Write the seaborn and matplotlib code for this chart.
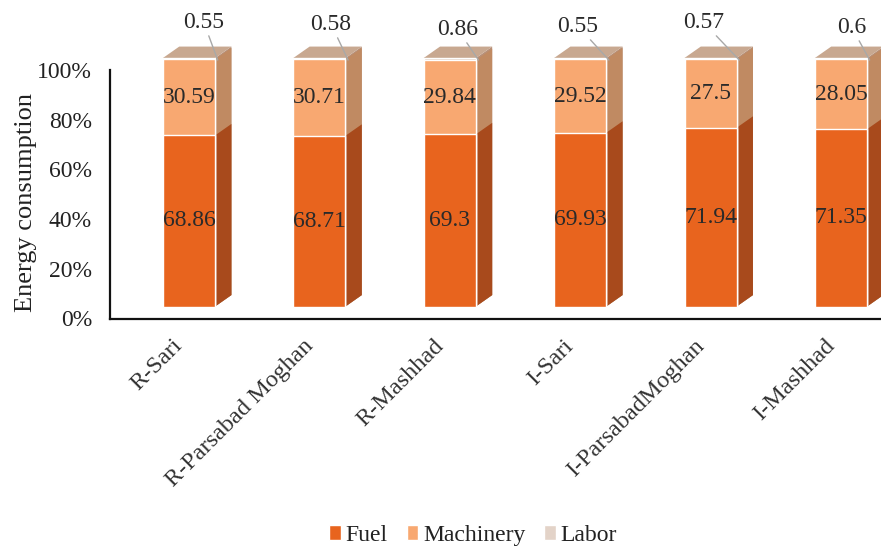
import matplotlib
matplotlib.use("Agg")
import matplotlib.pyplot as plt
import seaborn as sns
import pandas as pd
from matplotlib.patches import Polygon, Patch
from matplotlib.transforms import Affine2D

# data
sitios = ["R-Sari", "R-Parsabad Moghan", "R-Mashhad", "I-Sari", "I-ParsabadMoghan", "I-Mashhad"]
fuel = [68.86, 68.71, 69.3, 69.93, 71.94, 71.35]
machinery = [30.59, 30.71, 29.84, 29.52, 27.5, 28.05]
labor = [0.55, 0.58, 0.86, 0.55, 0.57, 0.6]

# where each labor label sits, pixels from the top right corner of its bar
labor_offsets = [(-14, 38), (-17, 36), (-21, 31), (-31, 34), (-36, 38), (-18, 33)]

COLORES = {"Fuel": "#E8641E", "Machinery": "#F8A871", "Labor": "#E3D3C8"}
LATERAL = {"Fuel": "#A84A1C", "Machinery": "#C08A62", "Labor": "#B89078"}
TOPE = {"Fuel": "#D45A1E", "Machinery": "#E09A68", "Labor": "#C8A890"}

sns.set_theme(style="white")
plt.rcParams["font.family"] = ["Liberation Serif", "DejaVu Serif"]
plt.rcParams["text.color"] = "#222222"

# stacked bars are drawn as cumulative bars, the tallest one first
df = pd.DataFrame({"sitio": sitios, "Fuel": fuel, "Machinery": machinery, "Labor": labor})
df["Machinery_acum"] = df["Fuel"] + df["Machinery"]
df["Labor_acum"] = df["Machinery_acum"] + df["Labor"]

W, H = 881, 548
fig = plt.figure(figsize=(W / 100, H / 100), dpi=100)
ax = fig.add_axes([110 / W, 1 - 318.5 / H, (W - 110) / W, 248.5 / H])

# the box sits a little above the floor of the chart, like the Excel 3D columns
subir = Affine2D().translate(0, 12)
prof_x, prof_y = 0.125, 4.6

for serie, col in [("Labor", "Labor_acum"), ("Machinery", "Machinery_acum"), ("Fuel", "Fuel")]:
    antes = len(ax.patches)
    sns.barplot(data=df, x="sitio", y=col, color=COLORES[serie], width=0.4,
                saturation=1, ax=ax, zorder=3)
    for p in list(ax.patches[antes:]):
        p.set_transform(ax.transData + subir)
        p.set_clip_on(False)
        x0, x1 = p.get_x(), p.get_x() + p.get_width()
        y1 = p.get_height()
        lado = Polygon([(x1, 0), (x1 + prof_x, prof_y), (x1 + prof_x, y1 + prof_y), (x1, y1)],
                       facecolor=LATERAL[serie], edgecolor="none", zorder=2.5,
                       transform=ax.transData + subir, clip_on=False)
        ax.add_patch(lado)
        if serie == "Labor":
            tapa = Polygon([(x0, y1), (x0 + prof_x, y1 + prof_y), (x1 + prof_x, y1 + prof_y), (x1, y1)],
                           facecolor=TOPE[serie], edgecolor="none", zorder=2.5,
                           transform=ax.transData + subir, clip_on=False)
            ax.add_patch(tapa)

ax.set_xlim(-0.606, 5.307)
ax.set_ylim(0, 100)

# data labels
for i in range(len(sitios)):
    ax.text(i, fuel[i] / 2, str(fuel[i]), ha="center", va="center", fontsize=17,
            color="#2a2a2a", zorder=5, transform=ax.transData + subir)
    ax.text(i, fuel[i] + machinery[i] / 2, str(machinery[i]), ha="center", va="center", fontsize=17,
            color="#2a2a2a", zorder=5, transform=ax.transData + subir)
    ax.annotate(str(labor[i]), xy=(i + 0.22, 104), xycoords="data",
                xytext=labor_offsets[i], textcoords="offset pixels",
                ha="center", va="center", fontsize=17, color="#2a2a2a", annotation_clip=False,
                arrowprops=dict(arrowstyle="-", color="#a8a8a8", lw=1, shrinkA=0, shrinkB=0),
                zorder=6)

sns.despine(ax=ax, top=True, right=True)
for lado_eje in ["left", "bottom"]:
    ax.spines[lado_eje].set_color("#111111")
    ax.spines[lado_eje].set_linewidth(1.6)

ax.set_yticks([0, 20, 40, 60, 80, 100])
ax.set_yticklabels(["0%", "20%", "40%", "60%", "80%", "100%"], fontsize=17, color="#222222")
ax.tick_params(axis="y", length=0, pad=13)
ax.set_ylabel("Energy consumption", fontsize=19, color="#222222")
ax.yaxis.set_label_coords(-0.095, 0.465)
ax.set_xlabel("")
ax.set_xticks(range(len(sitios)))
ax.set_xticklabels(sitios, rotation=45, ha="right", rotation_mode="anchor", fontsize=17.5, color="#333333")
ax.tick_params(axis="x", length=0, pad=10)
for etiqueta in ax.get_xticklabels():
    etiqueta.set_transform(etiqueta.get_transform() + Affine2D().translate(-17, -3))

handles = [Patch(facecolor=COLORES[s], label=s) for s in ["Fuel", "Machinery", "Labor"]]
fig.legend(handles=handles, loc="lower center", bbox_to_anchor=(0.537, -0.035), ncol=3, frameon=False,
           fontsize=17, handlelength=0.5, handleheight=0.55, handletextpad=0.2, columnspacing=0.8)

fig.savefig("out.png", dpi=100)
